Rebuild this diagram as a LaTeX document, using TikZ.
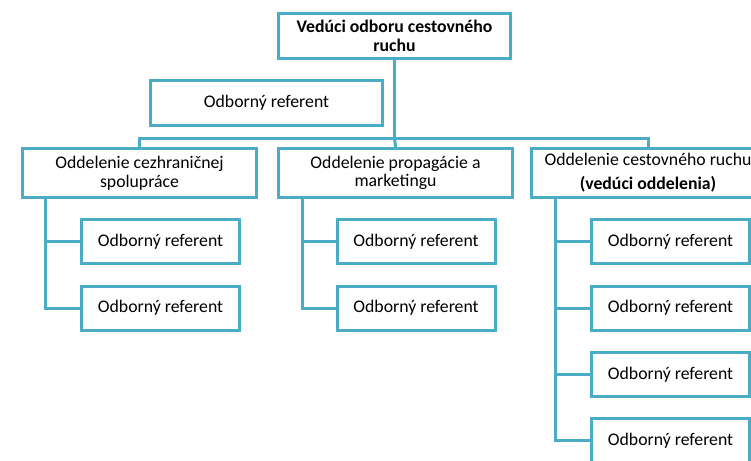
\documentclass[tikz,border=0pt]{standalone}
\usepackage{fontspec}
\setmainfont{Carlito}
\usepackage{xcolor}
\usepackage{tikz}
\usetikzlibrary{positioning}
\definecolor{aqua}{RGB}{75,172,198}
\tikzstyle{orgbox} = [draw=aqua, line width=2.25pt, fill=white, align=center, inner sep=2pt, font=\fontsize{13.3}{14}\selectfont]
\tikzstyle{headbox} = [orgbox, minimum width=174pt, minimum height=33.75pt]
\tikzstyle{deptbox} = [orgbox, minimum width=175.5pt, minimum height=36.75pt]
\tikzstyle{refbox} = [orgbox, minimum width=118.5pt, minimum height=33pt]
\tikzstyle{link} = [draw=aqua, line width=2.25pt]

\begin{document}
\begin{tikzpicture}[x=0.75pt, y=-0.75pt]
\useasboundingbox (0, 0) rectangle (751, 461);
\clip (0, 0) rectangle (751, 461);

%% head and staff
\node[headbox] (head) at (394.5, 36) {\textbf{Vedúci odboru cestovného}\\\textbf{ruchu}};
\node[headbox] (staff) at (266.5, 103) {Odborný referent};

%% departments
\node[deptbox] (dept1) at (139.5, 173) {Oddelenie cezhraničnej\\spolupráce};
\node[deptbox] (dept2) at (395.5, 173) {Oddelenie propagácie a\\marketingu};
\node[deptbox] (dept3) at (648, 173) {Oddelenie cestovného ruchu\\[4pt]\textbf{(vedúci oddelenia)}};

\coordinate (bus) at (394.5, 138);
\draw[link] (head) -- (bus);
\draw[link] (bus) -| (dept1.north);
\draw[link] (bus) -| (dept3.north);
\draw[link] (bus) -- (dept2.north);

%% referents
\node[refbox] (ref11) at (160.5, 241.5) {Odborný referent};
\node[refbox] (ref12) at (160.5, 308) {Odborný referent};
\node[refbox] (ref21) at (416, 241.5) {Odborný referent};
\node[refbox] (ref22) at (416, 308) {Odborný referent};
\node[refbox] (ref31) at (670.5, 241.5) {Odborný referent};
\node[refbox] (ref32) at (670.5, 308) {Odborný referent};
\node[refbox] (ref33) at (670.5, 374.5) {Odborný referent};
\node[refbox] (ref34) at (670.5, 440.5) {Odborný referent};

\draw[link] ([xshift=18pt]dept1.south west) |- (ref11.west);
\draw[link] ([xshift=18pt]dept1.south west) |- (ref12.west);
\draw[link] ([xshift=18.75pt]dept2.south west) |- (ref21.west);
\draw[link] ([xshift=18.75pt]dept2.south west) |- (ref22.west);
\foreach \i in {1,...,4}
  \draw[link] ([xshift=19.5pt]dept3.south west) |- (ref3\i.west);
\end{tikzpicture}
\end{document}
